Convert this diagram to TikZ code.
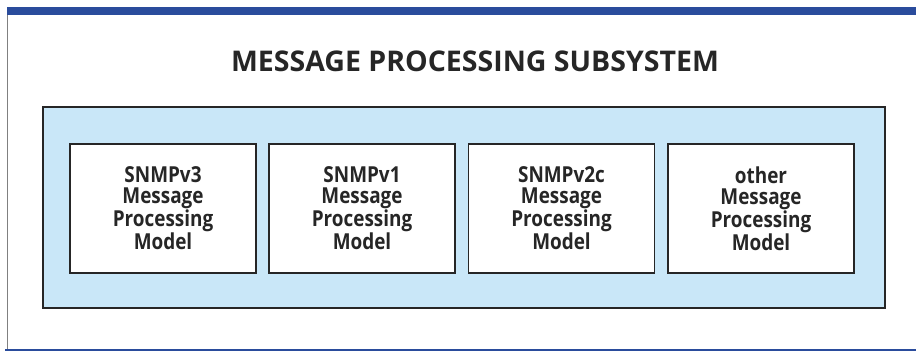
\documentclass[tikz,border=0pt]{standalone}
\usepackage{fontspec}
\setmainfont{Open Sans}
\newfontfamily\titlefont{Open Sans}
\newfontfamily\boxfont[FakeStretch=0.86]{Open Sans}
\definecolor{barblue}{HTML}{2A4C9C}
\definecolor{panelblue}{HTML}{C9E7F8}
\definecolor{edge}{HTML}{262626}
\tikzset{
  titletext/.style={inner sep=0pt, font=\titlefont\bfseries\fontsize{28.5}{30}\selectfont, text=edge},
  panelbox/.style={draw=edge, line width=1.8pt, fill=panelblue, minimum width=842pt, minimum height=201pt, inner sep=0pt},
  modelbox/.style={draw=edge, line width=1.8pt, fill=white, minimum width=186pt, minimum height=129pt, inner sep=0pt, align=center, text=edge, font=\boxfont\bfseries\fontsize{22}{21}\selectfont}
}
\begin{document}
\begin{tikzpicture}[x=1pt,y=-1pt]
\useasboundingbox (0,0) rectangle (916,353);
\fill[barblue] (7,7) rectangle (916,15);
\draw[gray, line width=1pt] (7,15) -- (7,350);
\draw[barblue, line width=1.6pt] (5,350) -- (916,350);
\node[titletext] (title) at (475,61) {MESSAGE PROCESSING SUBSYSTEM};
\node[panelbox] (panel) at (464,207.5) {};
\node[modelbox] (v3) at (163,208.5) {SNMPv3\\Message\\Processing\\Model};
\node[modelbox] (v1) at (362,208.5) {SNMPv1\\Message\\Processing\\Model};
\node[modelbox] (v2c) at (561.5,208.5) {SNMPv2c\\Message\\Processing\\Model};
\node[modelbox] (other) at (761,208.5) {other\\Message\\Processing\\Model};
\end{tikzpicture}
\end{document}
